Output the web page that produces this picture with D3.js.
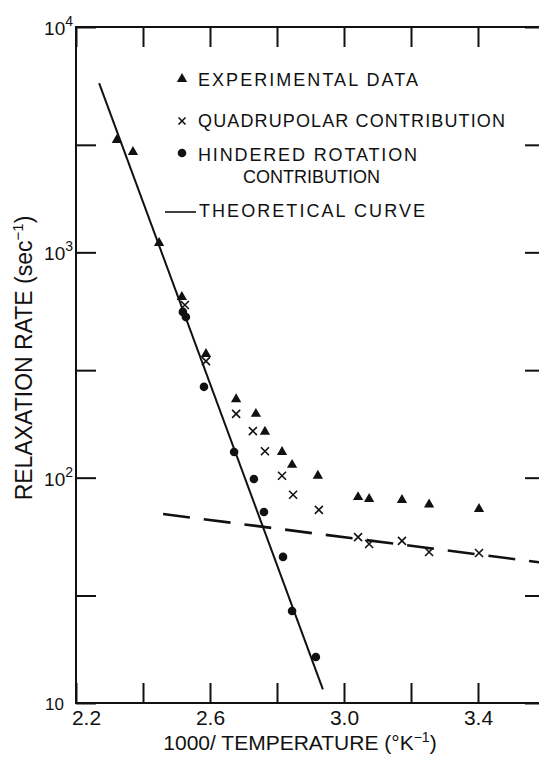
<!DOCTYPE html>
<html>
<head>
<meta charset="utf-8">
<script src="https://cdn.jsdelivr.net/npm/d3@7"></script>
<style>
  body { margin: 0; background: #fff; }
  svg { display: block; }
  text { font-family: "Liberation Sans", Arial, sans-serif; fill: #111; }
</style>
</head>
<body>
<div id="chart"></div>
<script>
// values: x = 1000/T (K^-1), y = relaxation rate (sec^-1)
var expX = [2.322, 2.370, 2.448, 2.516, 2.588, 2.678, 2.737, 2.764, 2.815, 2.845, 2.922, 3.042, 3.075, 3.173, 3.254, 3.403];
var expY = [3150, 2790, 1100, 634, 354, 223, 192, 160, 130, 114, 102, 82, 80.4, 79.6, 76, 72.6];

var quadX = [2.525, 2.588, 2.678, 2.728, 2.764, 2.815, 2.848, 2.925, 3.042, 3.075, 3.173, 3.254, 3.403];
var quadY = [584, 329, 192, 161, 131, 102, 84, 72, 54.5, 50.8, 52.4, 46.8, 46.3];

var hindX = [2.519, 2.528, 2.582, 2.672, 2.731, 2.761, 2.818, 2.845, 2.916];
var hindY = [544, 516, 253, 130, 98.6, 70.4, 44.5, 25.6, 16.0];

// theoretical curves (straight on the log plot, given by their end points)
var hindCurveX = [2.269, 2.937];
var hindCurveY = [5640, 11.5];
var quadCurveX = [2.460, 3.6];
var quadCurveY = [69.0, 41.8];

var xTicks = [2.2, 2.4, 2.6, 2.8, 3.0, 3.2, 3.4, 3.6];
var xTickLabels = ["2.2", "", "2.6", "", "3.0", "", "3.4", ""];
var yTicks = [10, 30, 100, 300, 1000, 3000, 10000];
var yTickExps = [1, null, 2, null, 3, null, 4];

var legendLabels = ["EXPERIMENTAL DATA", "QUADRUPOLAR CONTRIBUTION", "HINDERED ROTATION", "CONTRIBUTION", "THEORETICAL CURVE"];
var xTitle = "1000/ TEMPERATURE (°K";
var yTitle = "RELAXATION RATE (sec";

var W = 539, H = 757;
var svg = d3.select("#chart").append("svg")
    .attr("width", W)
    .attr("height", H);

svg.append("rect").attr("width", W).attr("height", H).attr("fill", "#fff");

var x = d3.scaleLinear().domain([2.2, 3.6]).range([76, 545]);
var y = d3.scaleLog().domain([10, 10000]).range([703, 27]);

var ink = "#111";

// frame
svg.append("rect")
    .attr("x", x(2.2)).attr("y", y(10000))
    .attr("width", x(3.6) - x(2.2)).attr("height", y(10) - y(10000))
    .attr("fill", "none").attr("stroke", ink).attr("stroke-width", 2);

function styleAxis(g) {
  g.select(".domain").remove();
  g.selectAll(".tick line").attr("stroke", ink).attr("stroke-width", 2);
}

// x axes
var bottom = svg.append("g")
    .attr("transform", `translate(0,${y(10)})`)
    .call(d3.axisBottom(x).tickValues(xTicks).tickSize(-20).tickPadding(7)
      .tickFormat((d, i) => xTickLabels[i]))
    .call(styleAxis);
bottom.selectAll(".tick text")
    .attr("font-size", 21)
    .attr("font-family", null)
    .attr("fill", ink)
    .attr("dx", (d, i) => i === 0 ? 10 : 0);

svg.append("g")
    .attr("transform", `translate(0,${y(10000)})`)
    .call(d3.axisTop(x).tickValues(xTicks).tickSize(-20).tickFormat(""))
    .call(styleAxis);

// y axes
svg.append("g")
    .attr("transform", `translate(${x(2.2)},0)`)
    .call(d3.axisLeft(y).tickValues(yTicks).tickSize(-20).tickFormat(""))
    .call(styleAxis);

svg.append("g")
    .attr("transform", `translate(${x(3.6)},0)`)
    .call(d3.axisRight(y).tickValues(yTicks).tickSize(-20).tickFormat(""))
    .call(styleAxis);

// y tick labels as powers of ten
yTicks.forEach(function (t, i) {
  var e = yTickExps[i];
  if (e === null) return;
  if (e === 1) {
    svg.append("text")
        .attr("x", x(2.2) - 12).attr("y", y(t) + 7)
        .attr("text-anchor", "end")
        .attr("font-size", 17)
        .text("10");
    return;
  }
  var lab = svg.append("text")
      .attr("x", x(2.2) - 3).attr("y", y(t) + 8)
      .attr("text-anchor", "end")
      .attr("font-size", 19)
      .text("10");
  lab.append("tspan").attr("dy", -9).attr("font-size", 14).text(e);
});

// axis titles
var xt = svg.append("text")
    .attr("x", 300).attr("y", 750)
    .attr("text-anchor", "middle")
    .attr("font-size", 21)
    .text(xTitle);
xt.append("tspan").attr("dy", -8).attr("font-size", 14).text("\u22121");
xt.append("tspan").attr("dy", 8).text(")");

var yt = svg.append("text")
    .attr("transform", "translate(32,358) rotate(-90)")
    .attr("text-anchor", "middle")
    .attr("font-size", 23)
    .text(yTitle);
yt.append("tspan").attr("dy", -9).attr("font-size", 15).text("\u22121");
yt.append("tspan").attr("dy", 9).text(")");

// theoretical curves
var line = d3.line().x(d => x(d[0])).y(d => y(d[1]));

svg.append("path")
    .datum(d3.zip(hindCurveX, hindCurveY))
    .attr("d", line)
    .attr("fill", "none").attr("stroke", ink).attr("stroke-width", 2);

svg.append("path")
    .datum(d3.zip(quadCurveX, quadCurveY))
    .attr("d", line)
    .attr("fill", "none").attr("stroke", ink).attr("stroke-width", 2.6)
    .attr("stroke-dasharray", "27,14");

// markers
var tri = d3.symbol(d3.symbolTriangle).size(46);

function cross(g, s) {
  g.append("path")
      .attr("d", `M${-s},${-s}L${s},${s}M${-s},${s}L${s},${-s}`)
      .attr("stroke", ink).attr("stroke-width", 1.6).attr("fill", "none");
}

svg.append("g").selectAll("path")
    .data(d3.zip(expX, expY))
    .enter().append("path")
    .attr("d", tri)
    .attr("transform", d => `translate(${x(d[0])},${y(d[1])})`)
    .attr("fill", ink);

svg.append("g").selectAll("g")
    .data(d3.zip(quadX, quadY))
    .enter().append("g")
    .attr("transform", d => `translate(${x(d[0])},${y(d[1])})`)
    .each(function () { cross(d3.select(this), 4); });

svg.append("g").selectAll("circle")
    .data(d3.zip(hindX, hindY))
    .enter().append("circle")
    .attr("cx", d => x(d[0])).attr("cy", d => y(d[1]))
    .attr("r", 4.3)
    .attr("fill", ink);

// legend
var legRows = [
  {label: legendLabels[0], base: 86, sym: "tri", tx: 198, len: 220},
  {label: legendLabels[1], base: 127, sym: "cross", tx: 198, len: 307},
  {label: legendLabels[2], base: 161, sym: "dot", tx: 198, len: 219},
  {label: legendLabels[3], base: 183, sym: null, tx: 243, len: 137},
  {label: legendLabels[4], base: 217, sym: "line", tx: 199, len: 226}
];
var leg = svg.append("g");
legRows.forEach(function (r) {
  leg.append("text")
      .attr("x", r.tx).attr("y", r.base)
      .attr("font-size", 18)
      .attr("textLength", r.len)
      .attr("lengthAdjust", "spacing")
      .text(r.label);
  var cy = r.base - 6;
  if (r.sym === "tri") {
    leg.append("path").attr("d", tri)
        .attr("transform", `translate(182,${cy - 1})`).attr("fill", ink);
  } else if (r.sym === "cross") {
    var g = leg.append("g").attr("transform", `translate(182,${cy})`);
    cross(g, 3.5);
  } else if (r.sym === "dot") {
    leg.append("circle").attr("cx", 182).attr("cy", cy - 2).attr("r", 4.3).attr("fill", ink);
  } else if (r.sym === "line") {
    leg.append("line")
        .attr("x1", 165).attr("x2", 196).attr("y1", cy + 1).attr("y2", cy + 1)
        .attr("stroke", ink).attr("stroke-width", 1.6);
  }
});
</script>
</body>
</html>
